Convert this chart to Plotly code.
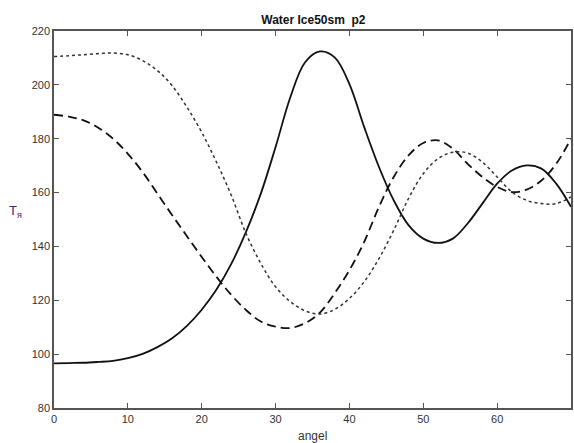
import plotly.graph_objects as go

# angle grid (step 2)
angle = [0, 2, 4, 6, 8, 10, 12, 14, 16, 18, 20, 22, 24, 26, 28, 30, 32, 34,
         36, 38, 40, 42, 44, 46, 48, 50, 52, 54, 56, 58, 60, 62, 64, 66, 68, 70]

# Solid series
y_solid = [96.6, 96.7, 96.8, 97.1, 97.5, 98.5, 100.1, 102.6, 105.9, 110.5, 116.5, 124.0,
           133.5, 145.4, 159.6, 176.9, 195.4, 208.4, 212.4, 210.2, 200.3, 184.3, 169.5, 157.1,
           147.9, 142.9, 141.3, 142.9, 148.5, 155.9, 163.3, 168.2, 170.1, 168.9, 163.3, 154.7]

# Dashed series
y_dash = [188.9, 188.2, 186.8, 184.1, 180.0, 174.4, 167.6, 159.6, 151.6, 143.8, 136.1, 128.7,
          122.0, 116.4, 112.1, 110.2, 109.7, 111.5, 115.4, 122.6, 131.2, 141.7, 154.7, 165.8,
          173.8, 178.4, 179.4, 176.3, 170.7, 165.8, 162.1, 160.2, 161.1, 164.5, 170.7, 180.0]

# Dotted series
y_dot = [210.5, 210.8, 211.2, 211.6, 211.8, 211.2, 209.0, 205.3, 199.7, 191.7, 182.4, 171.3,
         159.0, 144.8, 133.7, 125.0, 119.5, 116.1, 114.9, 116.6, 120.7, 126.9, 135.5, 146.0,
         157.8, 167.0, 172.6, 175.0, 174.7, 171.3, 165.8, 160.2, 157.1, 155.9, 155.9, 158.4]

x_ticks = [0, 10, 20, 30, 40, 50, 60, 70]
y_ticks = [80, 100, 120, 140, 160, 180, 200, 220]

fig = go.Figure()
fig.add_trace(go.Scatter(x=angle, y=y_solid, mode="lines",
                         line=dict(color="#111111", width=1.8, shape="spline", smoothing=1.0), showlegend=False))
fig.add_trace(go.Scatter(x=angle, y=y_dash, mode="lines",
                         line=dict(color="#111111", width=1.8, dash="9px,5px", shape="spline", smoothing=1.0), showlegend=False))
fig.add_trace(go.Scatter(x=angle, y=y_dot, mode="lines",
                         line=dict(color="#333333", width=1.5, dash="dot", shape="spline", smoothing=1.0), showlegend=False))

axis_common = dict(showgrid=False, zeroline=False, showline=True, linecolor="#555555", linewidth=1.5,
                   mirror="ticks", ticks="inside", ticklen=5, tickcolor="#555555",
                   tickfont=dict(family="Arial", size=11, color="#333333"))

fig.update_layout(
    width=574, height=443,
    margin=dict(l=54, r=1, t=31, b=35),
    paper_bgcolor="white", plot_bgcolor="white",
    title=dict(text="<b>Water Ice50sm  p2</b>", x=0.546, xanchor="center", y=0.955, yanchor="middle",
               font=dict(family="Arial", size=12, color="#111111")),
    xaxis=dict(range=[0, 70], tickvals=x_ticks, **axis_common),
    yaxis=dict(range=[80, 220], tickvals=y_ticks, **axis_common),
    annotations=[
        dict(text="angel", xref="paper", yref="paper", x=0.5, y=-0.075, xanchor="center", yanchor="middle",
             showarrow=False, font=dict(family="Arial", size=12, color="#333333")),
        dict(text="T<sub>я</sub>", xref="paper", yref="paper", x=-0.075, y=0.52, xanchor="center", yanchor="middle",
             showarrow=False, font=dict(family="Arial", size=13, color="#3b2a7a")),
    ],
)

fig.write_html("out.html")
